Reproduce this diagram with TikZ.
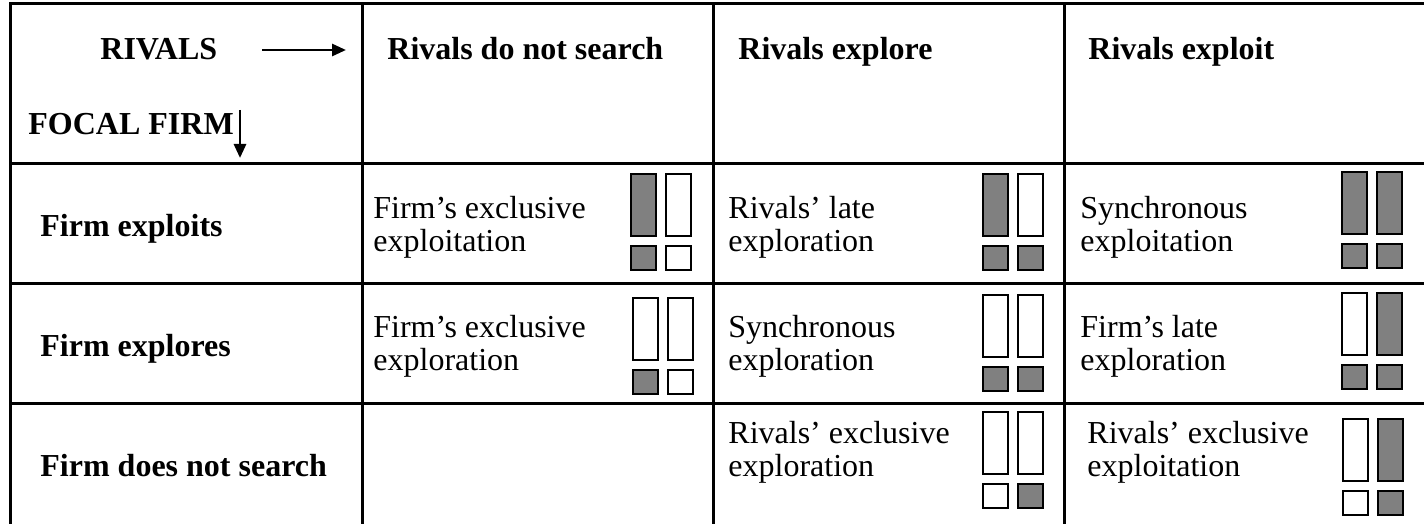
\documentclass[tikz,border=0pt]{standalone}
\usepackage{fontspec}
\setmainfont{Liberation Serif}
\usetikzlibrary{arrows.meta,positioning}
\usepackage{xcolor}

\definecolor{boxgray}{HTML}{808080}

% two bars over two small squares, fills given left to right, top then bottom
\newcommand{\searchicon}[6]{%
  \draw[icon, fill=#3] (#1,#2) rectangle ++(25,62);
  \draw[icon, fill=#4] (#1+35,#2) rectangle ++(25,62);
  \draw[icon, fill=#5] (#1,#2+72) rectangle ++(25,24);
  \draw[icon, fill=#6] (#1+35,#2+72) rectangle ++(25,24);
}

\begin{document}
\begin{tikzpicture}[
    x=0.5pt, y=-0.5pt,
    every node/.style={inner sep=0pt, font=\fontsize{16}{16.5}\selectfont},
    head/.style={font=\fontsize{16}{16.5}\selectfont\bfseries, anchor=base west},
    cell/.style={anchor=west, align=left},
    grid/.style={line width=1.5pt},
    icon/.style={line width=1pt},
    arrow/.style={-{Triangle[length=7pt,width=6pt]}, line width=1.4pt}
]
\useasboundingbox (0,0) rectangle (1424,524);

% Table rules
\draw[grid] (10,524) -- (10,4) -- (1424,4);
\foreach \y in {163,283,403} \draw[grid] (10,\y) -- (1424,\y);
\foreach \x in {362,713,1064} \draw[grid] (\x,4) -- (\x,524);

% Header
\node[head] (rivals) at (100,60) {RIVALS};
\node[head] (focal) at (28,134) {FOCAL FIRM};
\coordinate (rstart) at (262,50);
\coordinate (rend) at (346,50);
\coordinate (fstart) at (240,110);
\coordinate (fend) at (240,158);
\draw[arrow] (rstart) -- (rend);
\draw[arrow] (fstart) -- (fend);

\node[head] (nosearch) at (387,60) {Rivals do not search};
\node[head] (explore) at (738,60) {Rivals explore};
\node[head] (exploit) at (1088,60) {Rivals exploit};

% Row labels
\node[head] (fexploits) at (40,236) {Firm exploits};
\node[head] (fexplores) at (40,356) {Firm explores};
\node[head] (fnosearch) at (40,476) {Firm does not search};

% Cells
\node[cell] (c12) at (373,227) {Firm’s exclusive\\exploitation};
\node[cell] (c13) at (728,227) {Rivals’ late\\exploration};
\node[cell] (c14) at (1080,227) {Synchronous\\exploitation};
\node[cell] (c22) at (373,346) {Firm’s exclusive\\exploration};
\node[cell] (c23) at (728,346) {Synchronous\\exploration};
\node[cell] (c24) at (1080,346) {Firm’s late\\exploration};
\node[cell] (c33) at (728,452) {Rivals’ exclusive\\exploration};
\node[cell] (c34) at (1087,452) {Rivals’ exclusive\\exploitation};

% Icons
\searchicon{631}{174}{boxgray}{white}{boxgray}{white}
\searchicon{983}{174}{boxgray}{white}{boxgray}{boxgray}
\searchicon{1342}{172}{boxgray}{boxgray}{boxgray}{boxgray}
\searchicon{633}{298}{white}{white}{boxgray}{white}
\searchicon{983}{295}{white}{white}{boxgray}{boxgray}
\searchicon{1342}{293}{white}{boxgray}{boxgray}{boxgray}
\searchicon{983}{412}{white}{white}{white}{boxgray}
\searchicon{1343}{419}{white}{boxgray}{white}{boxgray}

\end{tikzpicture}
\end{document}
